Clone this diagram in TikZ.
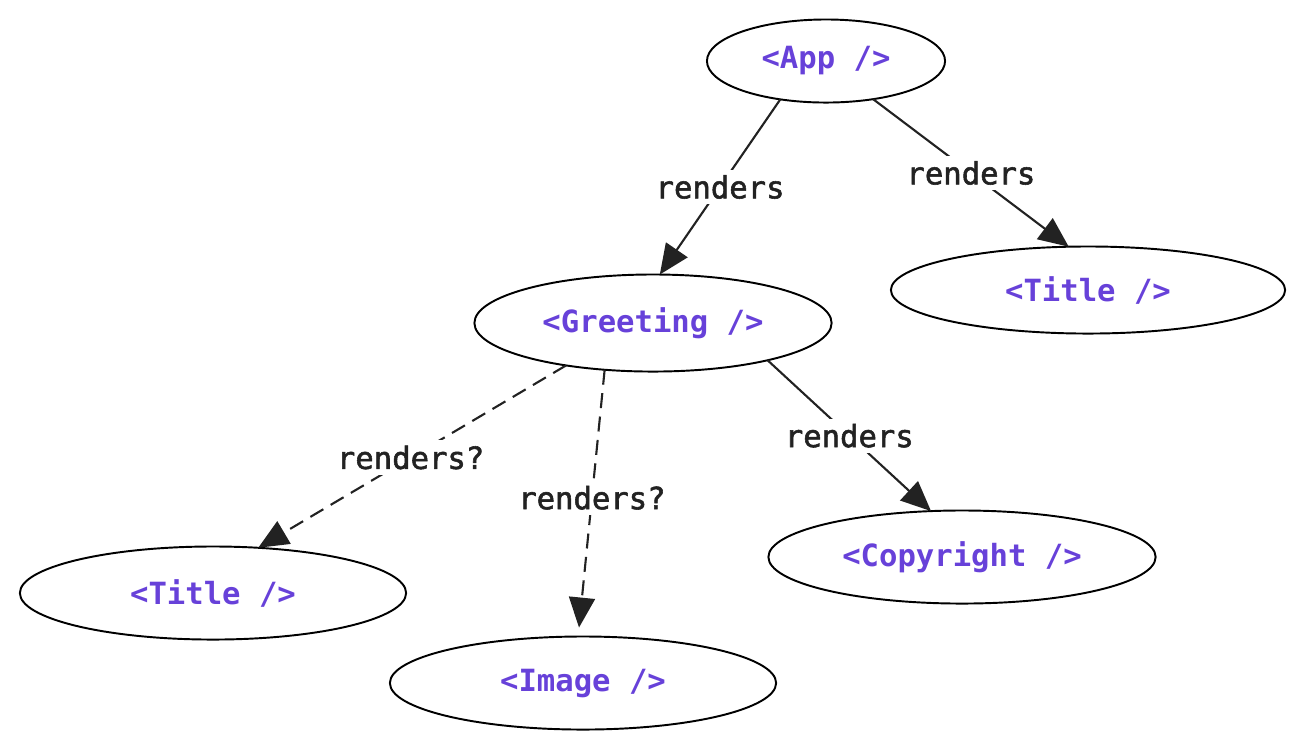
\documentclass[tikz,border=0pt]{standalone}
\usepackage{fontspec}
\setmonofont{DejaVu Sans Mono}
\newfontfamily\lblfont[FakeBold=1.8]{DejaVu Sans Mono}
\usetikzlibrary{shapes.geometric,arrows.meta}
\definecolor{jsxpurple}{RGB}{103,65,217}
\definecolor{edgegray}{RGB}{34,34,34}
\tikzset{
  comp/.style={draw=black, line width=0.55pt, ellipse, inner sep=0pt, outer sep=0pt,
    font=\ttfamily\bfseries\fontsize{8.7}{10}\selectfont, text=jsxpurple},
  rel/.style={draw=edgegray, line width=0.6pt,
    -{Triangle[length=0.3cm,width=0.26cm]}},
  maybe/.style={rel, dash pattern=on 0.15cm off 0.085cm},
  lbl/.style={fill=white, inner sep=1.5pt, text=edgegray,
    font=\lblfont\fontsize{8.7}{10}\selectfont}
}
\begin{document}
\begin{tikzpicture}[x=0.01cm,y=-0.01cm]
\useasboundingbox (0,0) rectangle (1304,750);
\node[comp, minimum width=2.38cm, minimum height=0.83cm] (app) at (826,61) {<App />};
\node[comp, minimum width=3.94cm, minimum height=0.87cm] (titleR) at (1088,290) {<Title />};
\node[comp, minimum width=3.57cm, minimum height=0.97cm] (greet) at (653,323) {<Greeting />};
\node[comp, minimum width=3.86cm, minimum height=0.93cm] (titleL) at (213,593) {<Title />};
\node[comp, minimum width=3.86cm, minimum height=0.93cm] (image) at (583,683) {<Image />};
\node[comp, minimum width=3.87cm, minimum height=0.93cm] (copy) at (962,557) {<Copyright />};

\draw[rel] (app.220) -- node[lbl] {renders} (greet.82);
\draw[rel] (app.321) -- node[lbl] {renders} (titleR.114);
\draw[maybe] (greet.206) -- node[lbl, pos=0.505] {renders?} (titleL.45);
\draw[maybe, shorten >=0.09cm] (greet.224) -- node[lbl, pos=0.48] {renders?} (image.96);
\draw[rel] (greet.342) -- node[lbl] {renders} (copy.124);
\end{tikzpicture}
\end{document}
